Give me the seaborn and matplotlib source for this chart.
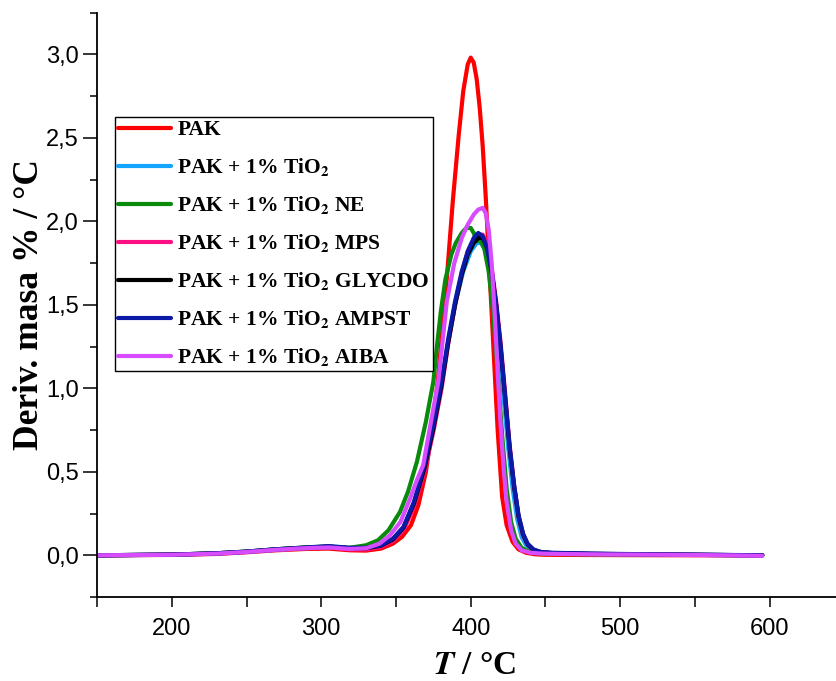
"""
DTG curves of PAK and PAK + 1% TiO2 composites
"""

import matplotlib
matplotlib.use("Agg")
import matplotlib.pyplot as plt
import seaborn as sns
import pandas as pd

# series names (legend order = drawing order)
names = ["PAK",
         "PAK + 1% TiO$_\\mathbf{2}$",
         "PAK + 1% TiO$_\\mathbf{2}$ NE",
         "PAK + 1% TiO$_\\mathbf{2}$ MPS",
         "PAK + 1% TiO$_\\mathbf{2}$ GLYCDO",
         "PAK + 1% TiO$_\\mathbf{2}$ AMPST",
         "PAK + 1% TiO$_\\mathbf{2}$ AIBA"]
colors = ["#ff0000", "#12a4ff", "#0a8a0a", "#ff0f84", "#000000", "#0a1aa6", "#d84cff"]

# PAK
t_pak = [150, 200, 230, 250, 270, 290, 305, 319, 330, 340, 348, 354, 360, 365, 370, 374,
         378, 381, 384, 388, 392, 395, 398, 400, 402, 404, 406, 408, 410, 412, 414, 416,
         418, 421, 424, 428, 432, 437, 443, 450, 470, 500, 550, 595]
d_pak = [0.0, 0.002, 0.008, 0.018, 0.03, 0.038, 0.04, 0.03, 0.028, 0.04, 0.07, 0.11, 0.18,
         0.3, 0.5, 0.75, 1.05, 1.35, 1.66, 2.12, 2.52, 2.78, 2.94, 2.98, 2.95, 2.85, 2.68,
         2.45, 2.15, 1.8, 1.45, 1.1, 0.75, 0.35, 0.18, 0.08, 0.035, 0.015, 0.006, 0.003,
         0.002, 0.001, 0.0, 0.0]

# PAK + 1% TiO2
t_tio2 = [150, 200, 230, 250, 270, 290, 305, 319, 330, 340, 348, 355, 362, 368, 374, 380,
          385, 390, 395, 400, 404, 407, 410, 413, 416, 419, 422, 425, 428, 431, 434, 437,
          441, 446, 455, 480, 520, 560, 595]
d_tio2 = [0.0, 0.003, 0.01, 0.02, 0.033, 0.043, 0.048, 0.04, 0.04, 0.055, 0.09, 0.16, 0.3,
          0.48, 0.72, 1.0, 1.28, 1.52, 1.7, 1.82, 1.87, 1.87, 1.82, 1.7, 1.5, 1.25, 0.95,
          0.65, 0.4, 0.22, 0.11, 0.06, 0.03, 0.018, 0.012, 0.008, 0.005, 0.002, 0.0]

# NE
t_ne = [150, 200, 230, 250, 270, 290, 305, 319, 330, 338, 345, 352.7, 358, 364, 370, 375,
        377.5, 380, 383, 387, 390, 394, 397, 400, 402, 404, 406, 409, 412, 415, 418, 421,
        424, 427, 430, 434, 439, 445, 455, 480, 520, 560, 595]
d_ne = [0.0, 0.004, 0.012, 0.022, 0.036, 0.047, 0.052, 0.045, 0.06, 0.09, 0.15, 0.26, 0.38,
        0.56, 0.8, 1.04, 1.26, 1.46, 1.65, 1.8, 1.87, 1.93, 1.96, 1.96, 1.93, 1.88, 1.89,
        1.84, 1.7, 1.45, 1.1, 0.72, 0.4, 0.2, 0.1, 0.045, 0.02, 0.012, 0.008, 0.006, 0.004,
        0.002, 0.0]

# MPS, GLYCDO, AMPST share temperature points
t_mod = [150, 200, 230, 250, 270, 290, 305, 319, 330, 340, 348, 355, 362, 369, 375, 380.5,
         385, 389.5, 394, 398, 402, 405, 408, 411, 414, 417, 420, 423, 426, 429, 432, 435,
         438, 442, 447, 455, 480, 520, 560, 595]
d_mps = [0.0, 0.003, 0.01, 0.02, 0.033, 0.043, 0.047, 0.035, 0.035, 0.05, 0.085, 0.15, 0.29,
         0.5, 0.74, 1.0, 1.27, 1.5, 1.69, 1.82, 1.89, 1.92, 1.92, 1.86, 1.72, 1.52, 1.27,
         0.97, 0.66, 0.42, 0.23, 0.12, 0.065, 0.03, 0.018, 0.012, 0.008, 0.005, 0.002, 0.0]
d_glycdo = [0.0, 0.004, 0.012, 0.022, 0.036, 0.046, 0.052, 0.042, 0.042, 0.058, 0.095,
            0.165, 0.31, 0.52, 0.76, 1.02, 1.28, 1.5, 1.68, 1.8, 1.87, 1.9, 1.9, 1.84, 1.7,
            1.5, 1.24, 0.94, 0.64, 0.41, 0.23, 0.125, 0.065, 0.032, 0.018, 0.013, 0.009,
            0.005, 0.002, 0.0]
d_ampst = [0.0, 0.004, 0.012, 0.022, 0.036, 0.047, 0.055, 0.045, 0.045, 0.06, 0.1, 0.17,
           0.32, 0.54, 0.78, 1.04, 1.3, 1.52, 1.7, 1.82, 1.9, 1.93, 1.91, 1.84, 1.7, 1.5,
           1.25, 0.95, 0.65, 0.42, 0.24, 0.13, 0.07, 0.035, 0.02, 0.015, 0.01, 0.006,
           0.003, 0.0]

# AIBA
t_aiba = [150, 200, 230, 250, 270, 290, 305, 319, 330, 339, 346, 353, 359, 364, 368.2, 373,
          378.3, 384, 389, 394, 398, 402, 405, 408, 410, 412, 414, 416, 418, 420, 422, 424,
          427, 430, 434, 440, 448, 460, 490, 530, 570, 595]
d_aiba = [0.0, 0.003, 0.01, 0.02, 0.033, 0.043, 0.047, 0.038, 0.042, 0.07, 0.12, 0.2, 0.33,
          0.45, 0.54, 0.78, 1.04, 1.52, 1.75, 1.9, 1.98, 2.04, 2.07, 2.08, 2.05, 1.95, 1.75,
          1.45, 1.1, 0.78, 0.52, 0.32, 0.15, 0.07, 0.03, 0.015, 0.01, 0.008, 0.005, 0.003,
          0.0, -0.003]

x_ticks = [200, 300, 400, 500, 600]
y_ticks = [0.0, 0.5, 1.0, 1.5, 2.0, 2.5, 3.0]
y_tick_labels = ["0,0", "0,5", "1,0", "1,5", "2,0", "2,5", "3,0"]


def build_frame():
    temps = [t_pak, t_tio2, t_ne, t_mod, t_mod, t_mod, t_aiba]
    vals = [d_pak, d_tio2, d_ne, d_mps, d_glycdo, d_ampst, d_aiba]
    parts = []
    for name, t, v in zip(names, temps, vals):
        parts.append(pd.DataFrame({"T": t, "d": v, "sample": name}))
    return pd.concat(parts, ignore_index=True)


def main():
    sns.set_style("ticks")
    plt.rcParams["font.family"] = ["Liberation Serif", "DejaVu Serif"]
    plt.rcParams["mathtext.fontset"] = "stix"
    # seaborn greys the text, the original is plain black
    for key in ["text.color", "axes.labelcolor", "xtick.color", "ytick.color"]:
        plt.rcParams[key] = "black"

    df = build_frame()
    fig = plt.figure(figsize=(8.37, 6.81), dpi=100)
    ax = fig.add_axes([0.1159, 0.1233, 0.8841, 0.8583])

    sns.lineplot(data=df, x="T", y="d", hue="sample", hue_order=names,
                 palette=dict(zip(names, colors)), estimator=None, sort=False,
                 linewidth=3.0, ax=ax)
    for line in ax.lines:
        line.set_solid_capstyle("round")
        line.set_solid_joinstyle("round")

    ax.set_xlim(150, 645)
    ax.set_ylim(-0.25, 3.25)
    ax.set_xticks(x_ticks)
    ax.set_xticks([150, 250, 350, 450, 550], minor=True)
    ax.set_yticks(y_ticks)
    ax.set_yticklabels(y_tick_labels)
    ax.set_yticks([-0.25, 0.25, 0.75, 1.25, 1.75, 2.25, 2.75, 3.25], minor=True)

    tick_font = ["Liberation Sans Narrow", "Liberation Sans", "DejaVu Sans"]
    for lab in ax.get_xticklabels() + ax.get_yticklabels():
        lab.set_family(tick_font)
        lab.set_fontsize(17)

    ax.tick_params(axis="x", which="both", length=7, width=1.1, direction="out", pad=8)
    ax.tick_params(axis="y", which="major", length=10, width=1.1, direction="out", pad=3)
    ax.tick_params(axis="y", which="minor", length=5, width=1.1, direction="out")

    sns.despine(ax=ax)
    for side in ["left", "bottom"]:
        ax.spines[side].set_linewidth(1.3)
        ax.spines[side].set_color("black")

    ax.set_xlabel("$\\boldsymbol{T}$ / °C", fontsize=24, fontweight="bold", labelpad=6)
    ax.xaxis.set_label_coords(0.51, -0.09)
    ax.set_ylabel("Deriv. masa % / °C", fontsize=25.5, fontweight="bold", labelpad=0)

    handles, labels = ax.get_legend_handles_labels()
    leg = ax.legend(handles, labels, loc="upper left", bbox_to_anchor=(0.024, 0.821),
                    borderaxespad=0, frameon=True, fancybox=False, framealpha=1,
                    edgecolor="black", borderpad=0.15, handlelength=2.45,
                    handletextpad=0.3, labelspacing=0.74,
                    prop={"family": ["Liberation Serif"], "weight": "bold", "size": 15.5})
    leg.get_frame().set_linewidth(1.0)
    for h in leg.get_lines():
        h.set_linewidth(3)
    for txt in leg.get_texts():
        txt.set_color("black")

    plt.savefig("out.png", dpi=100)


if __name__ == "__main__":
    main()
